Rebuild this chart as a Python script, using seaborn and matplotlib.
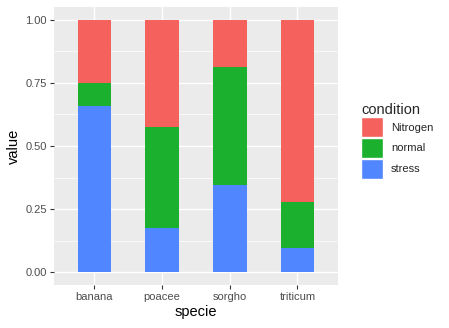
import numpy as np
import pandas as pd
import matplotlib
matplotlib.use("Agg")
import matplotlib.pyplot as plt
from matplotlib.patches import Patch
import seaborn as sns

species = ["banana", "poacee", "sorgho", "triticum"]
conditions = ["Nitrogen", "normal", "stress"]
nitrogen = [0.25, 0.426, 0.186, 0.723]
normal = [0.09, 0.397, 0.467, 0.182]
stress = [0.66, 0.177, 0.347, 0.095]
yticks = [0.00, 0.25, 0.50, 0.75, 1.00]
ytick_labels = ["0.00", "0.25", "0.50", "0.75", "1.00"]

colors = {"Nitrogen": "#F5625D", "normal": "#1BB02E", "stress": "#5086FF"}

sns.set_theme(style="darkgrid")
plt.rcParams['font.family'] = ['Liberation Sans', 'DejaVu Sans']

df = pd.DataFrame({"specie": species, "Nitrogen": nitrogen,
                   "normal": normal, "stress": stress})
total = df["Nitrogen"] + df["normal"] + df["stress"]
df["top_N"] = (df["Nitrogen"] + df["normal"] + df["stress"]) / total
df["top_normal"] = (df["normal"] + df["stress"]) / total
df["top_stress"] = df["stress"] / total

fig = plt.figure(figsize=(4.49, 3.28), dpi=100)
ax = fig.add_axes([0.120, 0.131, 0.633, 0.848])
ax.set_facecolor("#EBEBEB")

for col, cond in [("top_N", "Nitrogen"), ("top_normal", "normal"), ("top_stress", "stress")]:
    sns.barplot(data=df, x="specie", y=col, color=colors[cond], width=0.5,
                saturation=1, ax=ax, order=species)

for p in ax.patches:
    p.set_edgecolor("none")
    p.set_linewidth(0)

ax.set_xlim(-0.6, 3.6)
ax.set_ylim(-0.05, 1.05)
ax.set_yticks(yticks)
ax.set_yticklabels(ytick_labels)
ax.set_yticks([0.125, 0.375, 0.625, 0.875], minor=True)
ax.grid(True, which="major", color="white", linewidth=1.0)
ax.grid(True, which="minor", axis="y", color="white", linewidth=0.5)
ax.set_axisbelow(True)
for s in ax.spines.values():
    s.set_visible(False)
ax.tick_params(axis="both", which="major", length=3, width=0.8, color="#333333",
               labelsize=8, labelcolor="#4D4D4D", pad=2, left=True, bottom=True)
ax.tick_params(axis="y", which="minor", length=0)
ax.set_xlabel("specie", fontsize=10.5, color="black", labelpad=2)
ax.set_ylabel("value", fontsize=10.5, color="black", labelpad=3)

handles = [Patch(facecolor=colors[c], edgecolor="white", linewidth=1.0, label=c) for c in conditions]
leg = fig.legend(handles=handles, title="condition", loc="upper left",
                 bbox_to_anchor=(0.795, 0.70), frameon=False, fontsize=8,
                 title_fontsize=10.5, handlelength=1.95, handleheight=2.4,
                 handletextpad=0.7, labelspacing=0.05, borderaxespad=0)
leg._legend_box.align = "left"

fig.savefig("out.png", dpi=100)
